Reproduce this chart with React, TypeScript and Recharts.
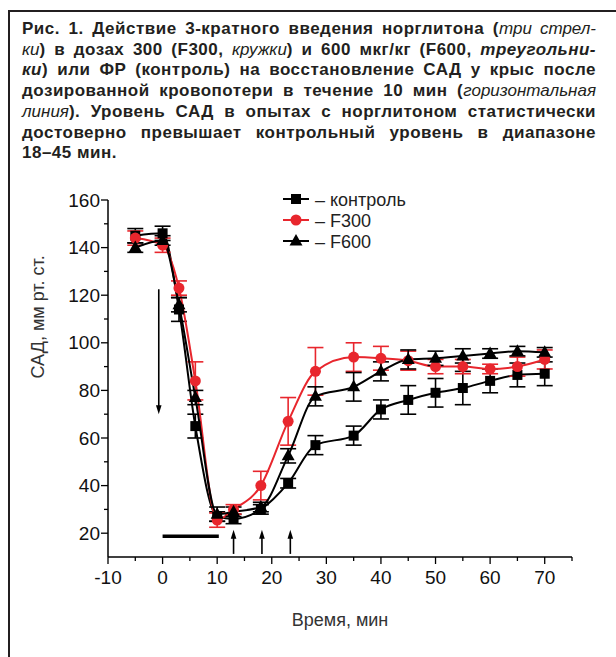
import React from 'react';
import { LineChart, Line, XAxis, YAxis, ErrorBar, ReferenceLine } from 'recharts';

// time points, min
const times = [-5, 0, 3, 6, 10, 13, 18, 23, 28, 35, 40, 45, 50, 55, 60, 65, 70];

// САД, мм рт. ст.
const control = [145, 146, 114, 65, 27, 26, 30, 41, 57, 61, 72, 76, 79, 81, 84, 86.5, 87];
const controlErr = [3, 3, 5, 5, 2, 2, 2, 2, 4, 4, 4, 6, 6, 7, 5, 5, 5];
const f300 = [144, 141, 123, 84, 25.5, 30, 40, 67, 88, 94, 93.5, 92.5, 90, 90, 89, 90, 93];
const f300Err = [3, 3, 3, 8, 3, 2, 6, 10, 10, 6, 5, 4, 3, 3, 2, 4, 4];
const f600 = [140, 143, 116, 77, 28, 29, 31, 52.5, 77.5, 81.5, 88, 93, 93.5, 94.5, 95.5, 96.5, 96];
const f600Err = [2, 2, 3, 3, 3, 2, 2, 3, 4, 6, 4, 4, 3, 3, 2, 2, 2];

const xTicks = [-10, -5, 0, 5, 10, 15, 20, 25, 30, 35, 40, 45, 50, 55, 60, 65, 70, 75];
const yTicks = [20, 30, 40, 50, 60, 70, 80, 90, 100, 110, 120, 130, 140, 150, 160];

const legendItems = [
  { label: '– контроль', color: '#000', shape: 'square' },
  { label: '– F300', color: '#e8262d', shape: 'circle' },
  { label: '– F600', color: '#000', shape: 'triangle' },
];

const RED = '#e8262d';
const FONT = '"Liberation Sans", Arial, sans-serif';

const data = times.map((t, i) => ({
  t,
  ctrl: control[i],
  ctrlE: controlErr[i],
  f300: f300[i],
  f300E: f300Err[i],
  f600: f600[i],
  f600E: f600Err[i],
}));

// caption: [style, text]; b = bold, i = italic, bi = bold italic
const caption: [string, string][][] = [
  [['b', 'Рис. 1. Действие 3-кратного введения норглитона ('], ['i', 'три стрел-']],
  [['i', 'ки'], ['b', ') в дозах 300 (F300, '], ['i', 'кружки'], ['b', ') и 600 мкг/кг (F600, '], ['bi', 'треугольни-']],
  [['bi', 'ки'], ['b', ') или ФР (контроль) на восстановление САД у крыс после']],
  [['b', 'дозированной кровопотери в течение 10 мин ('], ['i', 'горизонтальная']],
  [['i', 'линия'], ['b', '). Уровень САД в опытах с норглитоном статистически']],
  [['b', 'достоверно превышает контрольный уровень в диапазоне']],
  [['b', '18–45 мин.']],
];

const Square = (p: any) => {
  if (p.cx == null || p.cy == null) return null;
  return <rect key={p.index} x={p.cx - 5} y={p.cy - 5} width={10} height={10} fill="#000" />;
};
const Circle = (p: any) => {
  if (p.cx == null || p.cy == null) return null;
  return <circle key={p.index} cx={p.cx} cy={p.cy} r={5.5} fill={RED} />;
};
const Triangle = (p: any) => {
  if (p.cx == null || p.cy == null) return null;
  const { cx, cy } = p;
  return <polygon key={p.index} points={`${cx},${cy - 7} ${cx + 6.5},${cy + 4.5} ${cx - 6.5},${cy + 4.5}`} fill="#000" />;
};

const YTick = (props: any) => {
  const { x, y, payload } = props;
  const v = payload.value;
  const major = v % 20 === 0;
  return (
    <g>
      <line x1={x} x2={x - (major ? 7 : 4)} y1={y} y2={y} stroke="#000" strokeWidth={1.3} />
      {major && (
        <text x={x - 8} y={y + 6.5} textAnchor="end" fontSize={19} fontFamily={FONT} fill="#111">
          {v}
        </text>
      )}
    </g>
  );
};

const XTick = (props: any) => {
  const { x, y, payload } = props;
  const v = payload.value;
  const major = v % 10 === 0;
  return (
    <g>
      <line x1={x} x2={x} y1={y} y2={y + (major ? 7 : 4)} stroke="#000" strokeWidth={1.3} />
      {major && v <= 70 && (
        <text x={x} y={y + 27} textAnchor="middle" fontSize={19} fontFamily={FONT} fill="#111">
          {v}
        </text>
      )}
    </g>
  );
};

const Arrow = (props: any) => {
  const { x1, y1, x2, y2 } = props;
  const dir = y2 > y1 ? 1 : -1;
  return (
    <g>
      <line x1={x1} y1={y1} x2={x2} y2={y2 - dir * 6} stroke="#000" strokeWidth={1.6} />
      <polygon points={`${x2},${y2} ${x2 - 2.8},${y2 - dir * 9} ${x2 + 2.8},${y2 - dir * 9}`} fill="#000" />
    </g>
  );
};

const spanStyle = (s: string): React.CSSProperties => ({
  fontWeight: s.includes('b') ? 700 : 400,
  fontStyle: s.includes('i') ? 'italic' : 'normal',
  letterSpacing: s.includes('b') ? '0.5px' : '0px',
});

export default function App() {
  return (
    <div style={{ position: 'relative', width: 616, height: 657, overflow: 'hidden', background: '#fff', fontFamily: FONT }}>
      <style>{'body{margin:0}'}</style>
      <div
        style={{
          position: 'absolute',
          left: 8,
          top: 9.5,
          width: 700,
          height: 700,
          borderTop: '2.5px solid #231f20',
          borderLeft: '2.5px solid #231f20',
        }}
      />
      <div style={{ position: 'absolute', left: 0, top: 0 }}>
        <LineChart width={616} height={657} data={data} margin={{ top: 200, right: 44, bottom: 0, left: 0 }}>
          <XAxis
            dataKey="t"
            type="number"
            domain={[-10, 75]}
            ticks={xTicks}
            interval={0}
            height={100}
            tickSize={0}
            tickMargin={0}
            tickLine={false}
            tick={<XTick />}
            axisLine={{ stroke: '#000', strokeWidth: 1.5 }}
            label={{ value: 'Время, мин', position: 'insideTop', offset: 56, fontSize: 18, fill: '#333', fontFamily: FONT }}
          />
          <YAxis
            type="number"
            domain={[10, 160]}
            ticks={yTicks}
            interval={0}
            width={108}
            tickSize={0}
            tickMargin={0}
            tickLine={false}
            tick={<YTick />}
            axisLine={{ stroke: '#000', strokeWidth: 1.5 }}
            label={{ value: 'САД, мм рт. ст.', angle: -90, position: 'insideLeft', offset: 38, fontSize: 18, fill: '#333', fontFamily: FONT }}
          />
          <ReferenceLine segment={[{ x: -0.7, y: 122.5 }, { x: -0.7, y: 70 }]} shape={<Arrow />} />
          <ReferenceLine segment={[{ x: 0, y: 18.7 }, { x: 10.3, y: 18.7 }]} stroke="#000" strokeWidth={3.5} />
          <ReferenceLine segment={[{ x: 13, y: 11.3 }, { x: 13, y: 21.5 }]} shape={<Arrow />} />
          <ReferenceLine segment={[{ x: 18.2, y: 11.3 }, { x: 18.2, y: 21.5 }]} shape={<Arrow />} />
          <ReferenceLine segment={[{ x: 23.4, y: 11.3 }, { x: 23.4, y: 21.5 }]} shape={<Arrow />} />
          <Line type="monotone" dataKey="ctrl" stroke="#000" strokeWidth={2} dot={Square} isAnimationActive={false}>
            <ErrorBar dataKey="ctrlE" width={8} stroke="#000" strokeWidth={1.6} direction="y" />
          </Line>
          <Line type="monotone" dataKey="f300" stroke={RED} strokeWidth={2} dot={Circle} isAnimationActive={false}>
            <ErrorBar dataKey="f300E" width={8} stroke={RED} strokeWidth={1.6} direction="y" />
          </Line>
          <Line type="monotone" dataKey="f600" stroke="#000" strokeWidth={2} dot={Triangle} isAnimationActive={false}>
            <ErrorBar dataKey="f600E" width={8} stroke="#000" strokeWidth={1.6} direction="y" />
          </Line>
        </LineChart>
      </div>
      <svg style={{ position: 'absolute', left: 0, top: 0 }} width={616} height={260}>
        {legendItems.map((it, i) => {
          const cy = 199 + i * 21;
          const cx = 296;
          return (
            <g key={it.label}>
              <line x1={283} x2={309} y1={cy} y2={cy} stroke={it.color} strokeWidth={2} />
              {it.shape === 'square' && <rect x={cx - 5} y={cy - 5} width={10} height={10} fill={it.color} />}
              {it.shape === 'circle' && <circle cx={cx} cy={cy} r={5.5} fill={it.color} />}
              {it.shape === 'triangle' && (
                <polygon points={`${cx},${cy - 7} ${cx + 6.5},${cy + 4.5} ${cx - 6.5},${cy + 4.5}`} fill={it.color} />
              )}
              <text x={315} y={cy + 6.5} fontSize={18} fontFamily={FONT} fill="#222">
                {it.label}
              </text>
            </g>
          );
        })}
      </svg>
      <div style={{ position: 'absolute', left: 22, top: 19, width: 574, color: '#231f20', fontSize: 17, lineHeight: '20.7px' }}>
        {caption.map((line, i) => (
          <div
            key={i}
            style={{
              textAlign: 'justify',
              textAlignLast: i === caption.length - 1 ? 'left' : 'justify',
              whiteSpace: 'nowrap',
            }}
          >
            {line.map(([s, t], j) => (
              <span key={j} style={spanStyle(s)}>
                {t}
              </span>
            ))}
          </div>
        ))}
      </div>
    </div>
  );
}
